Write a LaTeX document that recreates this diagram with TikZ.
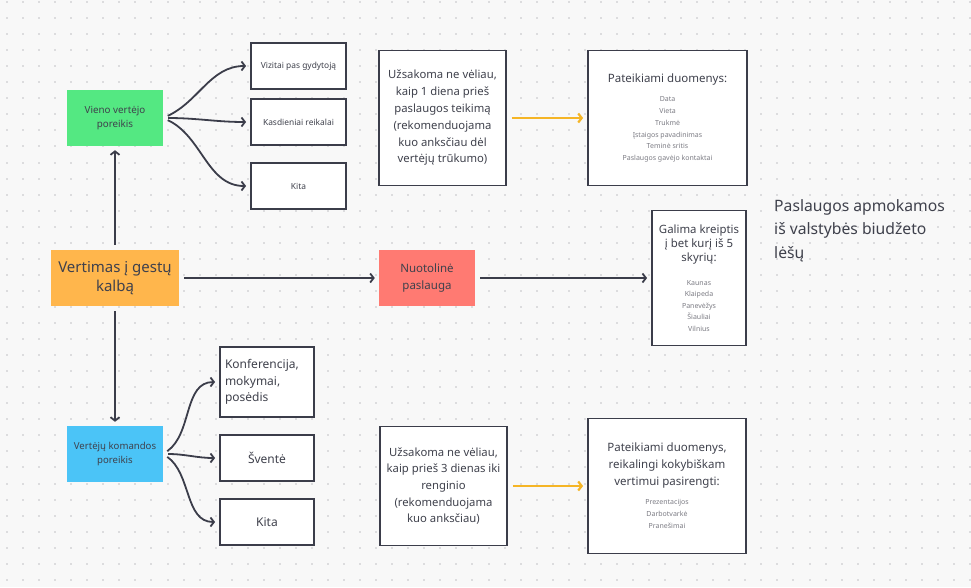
\documentclass[tikz,border=0pt]{standalone}
\usepackage{fontspec}
\setmainfont{Noto Sans}
\usetikzlibrary{positioning,arrows.meta}
\definecolor{bgcol}{HTML}{F8F8F8}
\definecolor{dotcol}{HTML}{DCDCDE}
\definecolor{ink}{HTML}{3B3D4A}
\definecolor{txt}{HTML}{3F414C}
\definecolor{listgray}{HTML}{7C7C84}
\definecolor{orangebox}{HTML}{FFB64C}
\definecolor{greenbox}{HTML}{54E882}
\definecolor{bluebox}{HTML}{4BC4F7}
\definecolor{redbox}{HTML}{FF7A72}
\definecolor{yellowline}{HTML}{F5B526}
\newcommand{\fs}[2]{\fontsize{#1}{#2}\selectfont}
\newcommand{\itemlist}[3]{{\fs{7}{#2}\color{listgray}\begin{minipage}[t]{#1}\centering #3\end{minipage}}}

\begin{document}
\begin{tikzpicture}[x=1pt,y=-1pt,on grid,
  >={Straight Barb[length=3.5pt,width=9pt]},
  colorbox/.style={minimum width=96pt,minimum height=56pt,inner sep=2pt,align=center,text=txt},
  whitebox/.style={draw=ink,fill=white,line width=1.8pt,inner sep=2pt,align=center,text=txt},
  link/.style={->,draw=ink,line width=1.8pt,shorten <=5pt,shorten >=4pt},
  yellowlink/.style={->,draw=yellowline,line width=2.2pt,shorten <=5pt,shorten >=4pt}]
  \useasboundingbox (0,0) rectangle (971,587);
  \fill[bgcol] (0,0) rectangle (971,587);
  \foreach \i in {0,...,60}
    \foreach \j in {0,...,36}
      \fill[dotcol] ({6+16.05*\i},{1+16.05*\j}) rectangle ++(2,2);

  \node[colorbox,fill=orangebox,minimum width=128pt,font=\fs{15}{19}] (gestai) at (115,278) {Vertimas į gestų\\kalbą};
  \node[colorbox,fill=greenbox,font=\fs{9.8}{14}] (vienas) [above=160pt of gestai] {Vieno vertėjo\\poreikis};
  \node[colorbox,fill=bluebox,font=\fs{9.6}{14}] (komanda) [below=176pt of gestai] {Vertėjų komandos\\poreikis};
  \node[colorbox,fill=redbox,font=\fs{11.5}{17}] (nuotol) [right=312pt of gestai] {Nuotolinė\\paslauga};

  \node[whitebox,minimum width=95pt,minimum height=46pt,font=\fs{8.4}{12}] (vizitai) at (298.5,66) {Vizitai pas gydytoją};
  \node[whitebox,minimum width=95pt,minimum height=46pt,font=\fs{8.4}{12}] (kasdien) at (298.5,122) {Kasdieniai reikalai};
  \node[whitebox,minimum width=95pt,minimum height=46pt,font=\fs{8.4}{12}] (kita) at (298.5,186) {Kita};

  \node[whitebox,minimum width=94pt,minimum height=70pt,text width=84pt,align=left,inner xsep=5pt,font=\fs{12}{16.7}] (konfer) at (267,382) {Konferencija,\\mokymai,\\posėdis\\[4pt]};
  \node[whitebox,minimum width=94pt,minimum height=46pt,font=\fs{12}{16}] (svente) at (267,458) {Šventė};
  \node[whitebox,minimum width=94pt,minimum height=46pt,font=\fs{12}{16}] (kita2) at (267,522) {Kita};

  \node[whitebox,minimum width=127pt,minimum height=135pt,font=\fs{11.3}{16.8}] (uzs1) at (442.5,118) {Užsakoma ne vėliau,\\kaip 1 diena prieš\\paslaugos teikimą\\(rekomenduojama\\kuo anksčiau dėl\\vertėjų trūkumo)};
  \node[whitebox,minimum width=159pt,minimum height=135pt,font=\fs{11.5}{16}] (duom1) at (667.5,118) {Pateikiami duomenys:\\[3.3pt]\itemlist{150pt}{11.7}{Data\\Vieta\\Trukmė\\Įstaigos pavadinimas\\Teminė sritis\\Paslaugos gavėjo kontaktai}};

  \node[whitebox,minimum width=94pt,minimum height=135pt,font=\fs{11.4}{14.3}] (skyriai) [right=272pt of nuotol] {Galima kreiptis\\į bet kurį iš 5\\skyrių:\\[9pt]\itemlist{80pt}{11.5}{Kaunas\\Klaipeda\\Panevėžys\\Šiauliai\\Vilnius}};

  \node[whitebox,minimum width=127pt,minimum height=119pt,font=\fs{11.3}{16.6}] (uzs2) at (443.5,486) {Užsakoma ne vėliau,\\kaip prieš 3 dienas iki\\renginio\\(rekomenduojama\\kuo anksčiau)};
  \node[whitebox,minimum width=158pt,minimum height=135pt,font=\fs{11.5}{16.7}] (duom2) at (667,486) {Pateikiami duomenys,\\reikalingi kokybiškam\\vertimui pasirengti:\\[2.6pt]\itemlist{150pt}{12}{Prezentacijos\\Darbotvarkė\\Pranešimai}};

  \node[anchor=north west,align=left,inner sep=0pt,text=txt,font=\fs{15.7}{23.5}] (apmok) at (774,199) {Paslaugos apmokamos\\iš valstybės biudžeto\\lėšų};

  \path[every edge/.style={link}]
              (gestai) edge (vienas)
              (gestai) edge (komanda)
              (gestai) edge (nuotol)
              (nuotol) edge (skyriai)
              (vienas.east) edge [out=25,in=180] (vizitai)
              (vienas.east) edge [out=0,in=180] (kasdien)
              (vienas.east) edge [out=-25,in=180] (kita)
              (komanda.east) edge [out=35,in=180] (konfer)
              (komanda.east) edge [out=0,in=180] (svente)
              (komanda.east) edge [out=-35,in=180] (kita2);
  \path[every edge/.style={yellowlink}]
              (uzs1) edge (duom1)
              (uzs2) edge (duom2);
\end{tikzpicture}
\end{document}
